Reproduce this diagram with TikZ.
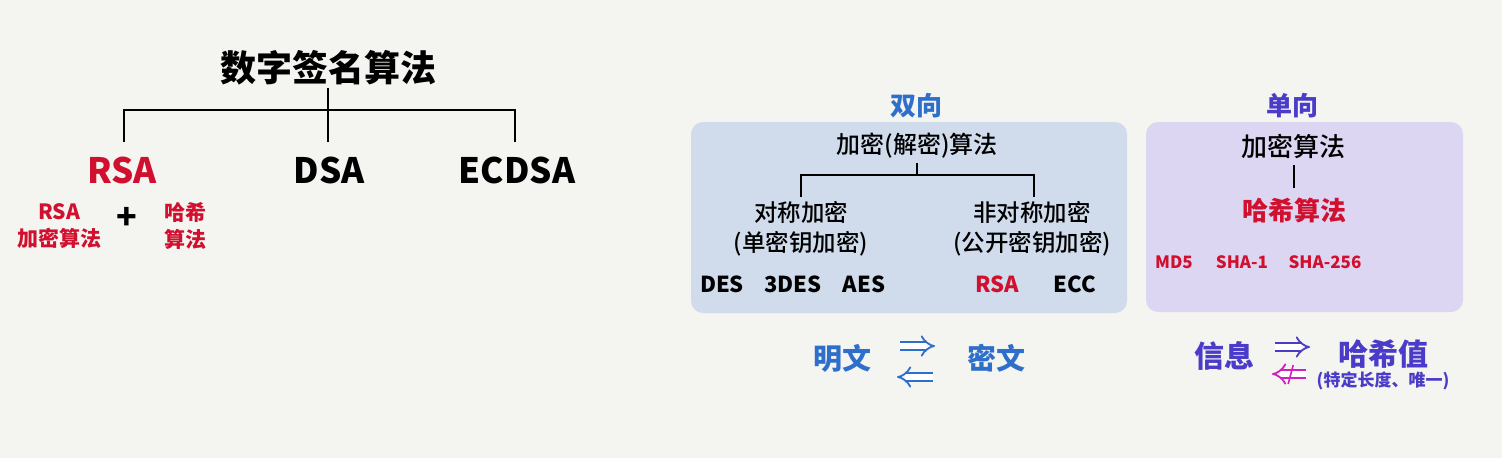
\documentclass[tikz,border=0pt]{standalone}
\usepackage{fontspec}
\setmainfont{Noto Sans CJK SC}
\newfontfamily\medio{Noto Sans CJK SC}[UprightFont={* Medium}]
\usetikzlibrary{arrows.meta, calc}

\definecolor{fondo}{HTML}{F4F4F0}
\definecolor{rojo}{HTML}{D0102E}
\definecolor{azul}{HTML}{2F6FCC}
\definecolor{morado}{HTML}{4A3CC8}
\definecolor{magenta}{HTML}{D020C0}
\definecolor{cajaazul}{HTML}{D0DCEC}
\definecolor{cajamorada}{HTML}{DCD6F2}

\newcommand{\fs}[1]{\fontsize{#1}{#1}\selectfont}

\tikzset{
  txt/.style={inner sep=0pt, align=center, font=\bfseries\fs{#1}},
  med/.style={inner sep=0pt, align=center, font=\medio\fs{#1}},
  rama/.style={line width=2.2pt},
  ramita/.style={line width=1.4pt},
  caja/.style={rounded corners=12pt},
  flecha/.style={double, double distance=5.5pt, line width=1.8pt,
    -{Implies[length=10pt, width=26pt]}}
}

\begin{document}
\begin{tikzpicture}[x=1pt, y=-1pt]

    % Fondo
        \fill[fondo] (0,0) rectangle (1502,458);
        \useasboundingbox (0,0) rectangle (1502,458);

    % Arbol firma digital
        \node[txt=36] (firma) at (328,68) {数字签名算法};
        \node[txt=35, text=rojo] (rsa) at (122,170) {RSA};
        \node[txt=35] (dsa) at (329,170) {DSA};
        \node[txt=35] (ecdsa) at (517,170) {ECDSA};
        \coordinate (raiz) at (328,88);
        \coordinate (barra) at (328,110);
        \coordinate (hoja1) at (124,142);
        \coordinate (hoja2) at (328,142);
        \coordinate (hoja3) at (515,142);
        \draw[rama] (raiz) -- (hoja2);
        \draw[rama] (hoja1) |- (barra) -| (hoja3);

        \node[txt=21, text=rojo] (rsacifra) at (59,226) {RSA\\[6pt]加密算法};
        \node[txt=34] (mas) at (127,218) {+};
        \node[txt=21, text=rojo] (hashrsa) at (185,226) {哈希\\[6pt]算法};

    % Caja bidireccional
        \fill[cajaazul, caja] (691,122) rectangle (1127,313);
        \node[txt=26, text=azul] (doble) at (916,106) {双向};
        \node[med=24] (cifrado) at (917,146) {加密(解密)算法};
        \node[med=23.5] (simetrico) at (801,229) {对称加密\\[7pt](单密钥加密)};
        \node[med=23.5] (asimetrico) at (1032,229) {非对称加密\\[7pt](公开密钥加密)};
        \coordinate (craiz) at (917,163);
        \coordinate (cbarra) at (917,175);
        \coordinate (choja1) at (801,197);
        \coordinate (choja2) at (1034,197);
        \draw[ramita] (craiz) -- (cbarra);
        \draw[ramita] (choja1) |- (cbarra) -| (choja2);

        \node[txt=22] (des) at (722,284) {DES};
        \node[txt=22] (tdes) at (793,284) {3DES};
        \node[txt=22] (aes) at (864,284) {AES};
        \node[txt=22, text=rojo] (rsab) at (997,284) {RSA};
        \node[txt=22] (ecc) at (1075,284) {ECC};

        \node[txt=29, text=azul] (claro) at (842,358) {明文};
        \node[txt=29, text=azul] (oculto) at (996,358) {密文};
        \coordinate (ida1) at (900,346);
        \coordinate (ida2) at (935,346);
        \coordinate (vuelta1) at (933,377);
        \coordinate (vuelta2) at (897,377);
        \draw[flecha, azul] (ida1) -- (ida2);
        \draw[flecha, azul] (vuelta1) -- (vuelta2);

    % Caja unidireccional
        \fill[cajamorada, caja] (1146,122) rectangle (1463,312);
        \node[txt=26, text=morado] (simple) at (1292,106) {单向};
        \node[med=26] (cifrado2) at (1293,146) {加密算法};
        \node[txt=26, text=rojo] (hash) at (1294,210) {哈希算法};
        \coordinate (hraiz) at (1294,165);
        \coordinate (hfin) at (1294,188);
        \draw[line width=1.6pt] (hraiz) -- (hfin);

        \node[txt=17, text=rojo] (md) at (1174,262) {MD5};
        \node[txt=17, text=rojo] (shauno) at (1242,262) {SHA-1};
        \node[txt=17, text=rojo] (shados) at (1325,262) {SHA-256};

        \node[txt=30, text=morado] (info) at (1224,356) {信息};
        \node[txt=30, text=morado] (valor) at (1383,354) {哈希值};
        \node[txt=17, text=morado] (nota) at (1383,381) {(特定长度、唯一)};
        \coordinate (hida1) at (1275,347);
        \coordinate (hida2) at (1310,347);
        \coordinate (hvuelta1) at (1306,374);
        \coordinate (hvuelta2) at (1272,374);
        \draw[flecha, morado] (hida1) -- (hida2);
        \draw[flecha, magenta] (hvuelta1) -- (hvuelta2);
        \draw[magenta, line width=1.6pt] ([xshift=2.5pt,yshift=9pt]$(hvuelta1)!0.45!(hvuelta2)$)
            -- ([xshift=-2.5pt,yshift=-10pt]$(hvuelta1)!0.45!(hvuelta2)$);

\end{tikzpicture}
\end{document}
